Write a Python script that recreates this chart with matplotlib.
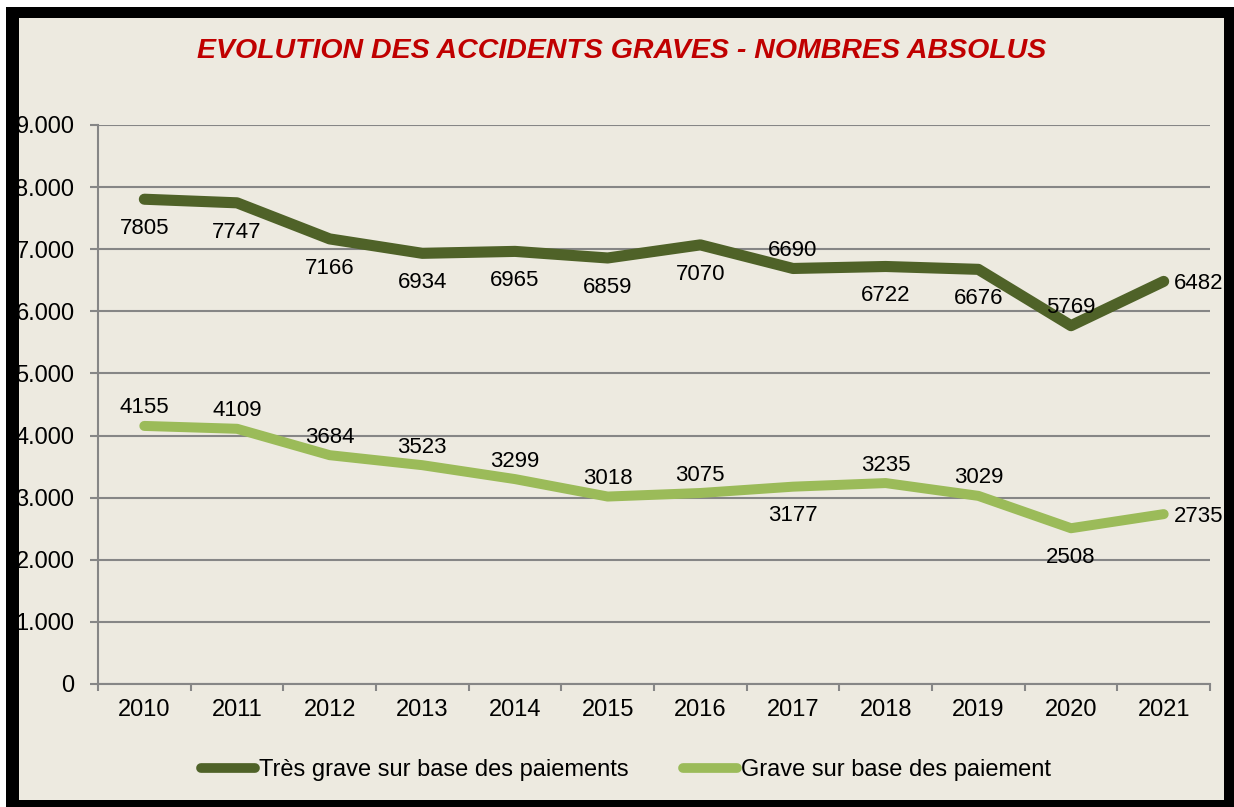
import numpy as np
import matplotlib.pyplot as plt
from matplotlib.patches import Rectangle
from matplotlib.lines import Line2D

years = ['2010', '2011', '2012', '2013', '2014', '2015', '2016', '2017', '2018', '2019', '2020', '2021']
tres_grave = [7805, 7747, 7166, 6934, 6965, 6859, 7070, 6690, 6722, 6676, 5769, 6482]
grave = [4155, 4109, 3684, 3523, 3299, 3018, 3075, 3177, 3235, 3029, 2508, 2735]

# where each value label sits relative to its point
pos_tres = ['below'] * 7 + ['above', 'below', 'below', 'above', 'right']
pos_grave = ['above'] * 7 + ['below', 'above', 'above', 'below', 'right']

dark = '#4F6228'
light = '#9BBB59'
bg = '#EDEAE0'
W, H = 1234, 807

plt.rcParams['font.family'] = ['Liberation Sans', 'DejaVu Sans']

fig = plt.figure(figsize=(W / 100, H / 100), dpi=100)
fig.patch.set_facecolor('white')
fig.patches.append(Rectangle((6 / W, 1 - 800 / H), 1228 / W, 793 / H,
                             transform=fig.transFigure, facecolor=bg, zorder=-1))

# thick black frame, drawn over everything (it clips the y labels a bit)
for (x0, y0, x1, y1) in [(6, 7, 19, 807), (6, 7, 1234, 18), (1224, 7, 1234, 807), (6, 800, 1234, 807)]:
    fig.patches.append(Rectangle((x0 / W, 1 - y1 / H), (x1 - x0) / W, (y1 - y0) / H,
                                 transform=fig.transFigure, facecolor='black', zorder=10))

ax = fig.add_axes([98 / W, 1 - 684 / H, (1210 - 98) / W, (684 - 125) / H])
ax.set_facecolor(bg)

x = np.arange(len(years))
ax.plot(x, tres_grave, color=dark, lw=8, solid_capstyle='round', solid_joinstyle='round', zorder=3)
ax.plot(x, grave, color=light, lw=7.2, solid_capstyle='round', solid_joinstyle='round', zorder=3)

def label(xs, ys, where):
    for xi, yi, p in zip(xs, ys, where):
        if p == 'above':
            ax.annotate(str(yi), (xi, yi), xytext=(0, 9), textcoords='offset points',
                        ha='center', va='baseline', fontsize=16)
        elif p == 'below':
            ax.annotate(str(yi), (xi, yi), xytext=(0, -25), textcoords='offset points',
                        ha='center', va='baseline', fontsize=16)
        else:
            ax.annotate(str(yi), (xi, yi), xytext=(7, 0), textcoords='offset points',
                        ha='left', va='center_baseline', fontsize=16, annotation_clip=False)

label(x, tres_grave, pos_tres)
label(x, grave, pos_grave)

ax.set_xlim(-0.5, len(years) - 0.5)
ax.set_ylim(0, 9000)
ax.set_yticks(np.arange(0, 9001, 1000))
ax.set_yticklabels(['0'] + ['{}.000'.format(i) for i in range(1, 10)], fontsize=17)
ax.yaxis.grid(True, color='#868686', lw=1.5)
ax.set_axisbelow(True)

ax.set_xticks(x)
ax.set_xticklabels(years, fontsize=17)
ax.tick_params(axis='x', length=0, pad=11)
ax.set_xticks(np.arange(-0.5, len(years), 1), minor=True)
ax.tick_params(axis='x', which='minor', length=5, color='#868686', width=1.5)
ax.tick_params(axis='y', length=6, color='#868686', width=1.5, pad=11)

for s in ['top', 'right']:
    ax.spines[s].set_visible(False)
for s in ['left', 'bottom']:
    ax.spines[s].set_color('#868686')
    ax.spines[s].set_linewidth(1.5)

fig.text(622 / W, 1 - 51 / H, 'EVOLUTION DES ACCIDENTS GRAVES - NOMBRES ABSOLUS',
         ha='center', va='center', fontsize=20.5, color='#C00000',
         fontstyle='italic', fontweight='bold')

handles = [Line2D([], [], color=dark, lw=7, solid_capstyle='round'),
           Line2D([], [], color=light, lw=7, solid_capstyle='round')]
fig.legend(handles, ['Très grave sur base des paiements', 'Grave sur base des paiement'],
           loc='center', bbox_to_anchor=(626 / W, 1 - 770 / H), ncol=2, frameon=False,
           fontsize=17, handlelength=2.3, handletextpad=0.15, columnspacing=2.3)

fig.savefig('out.png', dpi=100)
